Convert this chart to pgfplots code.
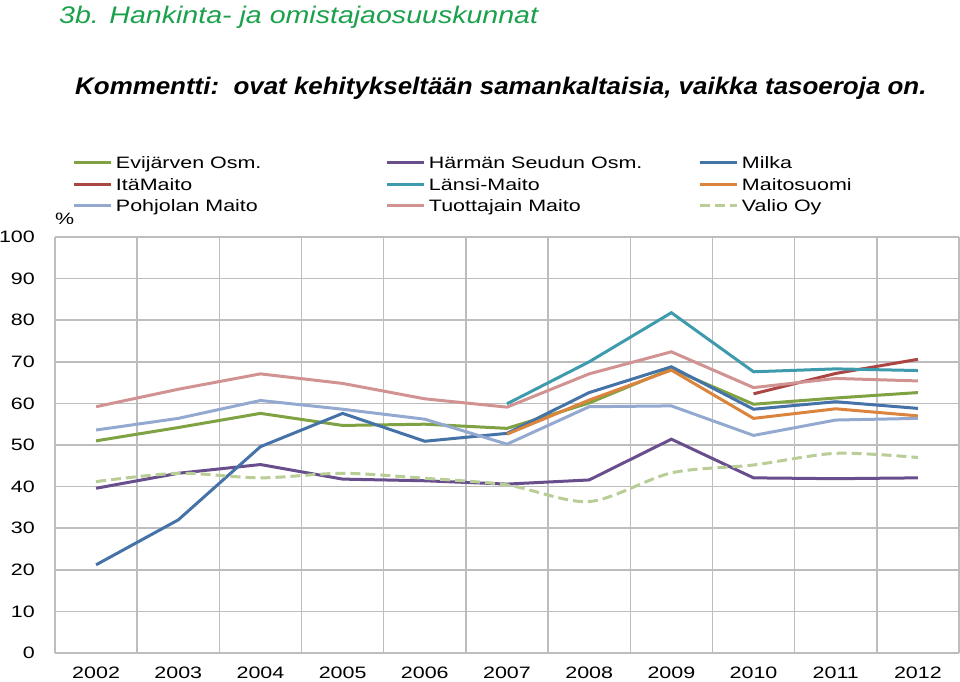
\documentclass[border=0pt]{standalone}
\usepackage{fontspec}
\setmainfont{Liberation Sans}
\newfontfamily\chartfont[FakeStretch=1.3]{Liberation Sans}
\newfontfamily\titlefont[FakeStretch=1.19]{Liberation Sans}
\newfontfamily\commentfont[FakeStretch=1.08]{Liberation Sans}
\usepackage{pgfplots}
\pgfplotsset{compat=1.18}

\definecolor{cEvi}{HTML}{7FA243}
\definecolor{cHar}{HTML}{684E8C}
\definecolor{cMil}{HTML}{4572A7}
\definecolor{cIta}{HTML}{AA4643}
\definecolor{cLan}{HTML}{3E9BAE}
\definecolor{cMai}{HTML}{DB843D}
\definecolor{cPoh}{HTML}{93A9CF}
\definecolor{cTuo}{HTML}{D19392}
\definecolor{cVal}{HTML}{B9CD96}
\definecolor{cGrid}{HTML}{BDBDBD}
\definecolor{cTitle}{HTML}{1BA14B}

\newcommand\cf{\chartfont\fontsize{16.5bp}{19bp}\selectfont}
\newcommand\lt[1]{\makebox[270bp][l]{#1}}

\begin{document}
\begin{tikzpicture}
\useasboundingbox (-55bp,-29bp) rectangle (905bp,653bp);
\begin{axis}[
  at={(0,0)}, anchor=south west,
  scale only axis, width=904bp, height=416bp,
  xmin=-0.5, xmax=10.5, ymin=0, ymax=100,
  xtick={-0.5,0.5,1.5,2.5,3.5,4.5,5.5,6.5,7.5,8.5,9.5,10.5},
  x tick label as interval,
  xticklabels={2002,2003,2004,2005,2006,2007,2008,2009,2010,2011,2012},
  ytick={0,10,...,100},
  xmajorgrids, ymajorgrids,
  major grid style={draw=cGrid, line width=1.5bp},
  axis lines=left,
  axis line style={draw=cGrid, line width=1.5bp, -},
  major tick length=0pt,
  ticklabel style={font=\cf, text=black},
  /pgf/number format/assume math mode=true,
  yticklabel style={anchor=east, inner sep=0pt, xshift=-20bp},
  xticklabel style={anchor=north, inner sep=0pt, yshift=-14bp},
  legend columns=3,
  legend cell align=left,
  legend style={draw=none, fill=none, at={(0.0199,1.1923)}, anchor=north west,
    inner sep=0pt, outer sep=0pt, font=\cf,
    nodes={inner sep=0pt, text height=12bp, text depth=0pt},
    row sep=9.5bp,
    /tikz/every odd column/.append style={column sep=3bp}},
  legend image code/.code={\draw[#1] (0bp,0bp) -- (37bp,0bp);},
  every axis plot/.append style={line width=3bp},
]
\addplot[cEvi] coordinates {(0,51.0) (1,54.2) (2,57.6) (3,54.7) (4,55.0) (5,54.0) (6,60.1) (7,68.3) (8,59.8) (9,61.3) (10,62.6)};
\addlegendentry{\lt{Evijärven Osm.}}
\addplot[cHar] coordinates {(0,39.6) (1,43.2) (2,45.3) (3,41.8) (4,41.4) (5,40.6) (6,41.6) (7,51.4) (8,42.1) (9,41.9) (10,42.1)};
\addlegendentry{\lt{Härmän Seudun Osm.}}
\addplot[cMil] coordinates {(0,21.2) (1,32.0) (2,49.6) (3,57.6) (4,50.9) (5,52.8) (6,62.6) (7,68.8) (8,58.6) (9,60.4) (10,58.8)};
\addlegendentry{\lt{Milka}}
\addplot[cIta] coordinates {(8,62.3) (9,67.2) (10,70.6)};
\addlegendentry{\lt{ItäMaito}}
\addplot[cLan] coordinates {(5,59.9) (6,70.0) (7,81.8) (8,67.6) (9,68.3) (10,67.9)};
\addlegendentry{\lt{Länsi-Maito}}
\addplot[cMai] coordinates {(5,52.6) (6,60.8) (7,68.0) (8,56.4) (9,58.7) (10,57.0)};
\addlegendentry{\lt{Maitosuomi}}
\addplot[cPoh] coordinates {(0,53.6) (1,56.4) (2,60.7) (3,58.6) (4,56.2) (5,50.2) (6,59.2) (7,59.4) (8,52.3) (9,56.0) (10,56.4)};
\addlegendentry{\lt{Pohjolan Maito}}
\addplot[cTuo] coordinates {(0,59.2) (1,63.4) (2,67.1) (3,64.8) (4,61.1) (5,59.1) (6,67.1) (7,72.4) (8,63.8) (9,66.0) (10,65.4)};
\addlegendentry{\lt{Tuottajain Maito}}
\addplot[cVal, dash pattern=on 10bp off 5bp, smooth, tension=0.5] coordinates {(0,41.2) (1,43.2) (2,42.1) (3,43.2) (4,42.0) (5,40.4) (6,36.4) (7,43.3) (8,45.2) (9,48.0) (10,47.0)};
\addlegendentry{\lt{Valio Oy}}
\end{axis}
\node[anchor=base west, inner sep=0pt, font=\cf] at (0bp,428bp) {\%};
\node[anchor=base west, inner sep=0pt, text=cTitle, font=\titlefont\itshape\fontsize{24bp}{28bp}\selectfont] at (4bp,629bp) {3b. Hankinta- ja omistajaosuuskunnat};
\node[anchor=base west, inner sep=0pt, font=\commentfont\bfseries\itshape\fontsize{24bp}{28bp}\selectfont] at (20bp,558bp) {Kommentti:\ \ ovat kehitykseltään samankaltaisia, vaikka tasoeroja on.};
\end{tikzpicture}
\end{document}
